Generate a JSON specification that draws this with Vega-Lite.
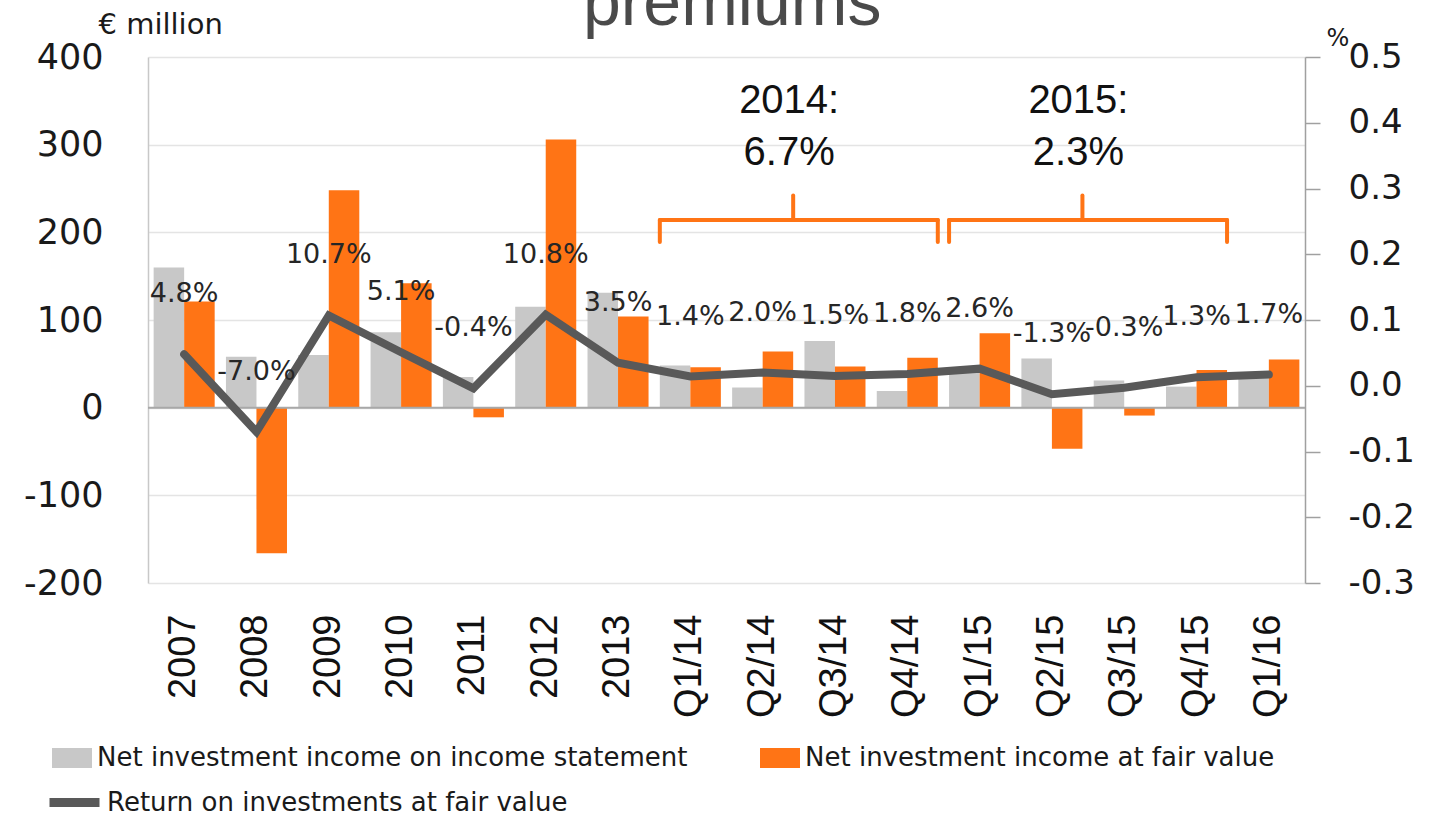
{
  "$schema": "https://vega.github.io/schema/vega-lite/v6.json",
  "autosize": {"type": "none"},
  "width": 1157,
  "height": 526,
  "padding": {"left": 148, "top": 57, "right": 124, "bottom": 234},
  "config": {
    "view": {"stroke": null},
    "font": "DejaVu Sans",
    "text": {"font": "DejaVu Sans"}
  },
  "datasets": {
    "bars": [
      {"cat": "2007", "series": "Net investment income on income statement", "value": 160},
      {"cat": "2007", "series": "Net investment income at fair value", "value": 121},
      {"cat": "2008", "series": "Net investment income on income statement", "value": 58},
      {"cat": "2008", "series": "Net investment income at fair value", "value": -166},
      {"cat": "2009", "series": "Net investment income on income statement", "value": 60},
      {"cat": "2009", "series": "Net investment income at fair value", "value": 248},
      {"cat": "2010", "series": "Net investment income on income statement", "value": 86},
      {"cat": "2010", "series": "Net investment income at fair value", "value": 142},
      {"cat": "2011", "series": "Net investment income on income statement", "value": 35},
      {"cat": "2011", "series": "Net investment income at fair value", "value": -11},
      {"cat": "2012", "series": "Net investment income on income statement", "value": 115},
      {"cat": "2012", "series": "Net investment income at fair value", "value": 306},
      {"cat": "2013", "series": "Net investment income on income statement", "value": 131},
      {"cat": "2013", "series": "Net investment income at fair value", "value": 104},
      {"cat": "Q1/14", "series": "Net investment income on income statement", "value": 48},
      {"cat": "Q1/14", "series": "Net investment income at fair value", "value": 46},
      {"cat": "Q2/14", "series": "Net investment income on income statement", "value": 23},
      {"cat": "Q2/14", "series": "Net investment income at fair value", "value": 64},
      {"cat": "Q3/14", "series": "Net investment income on income statement", "value": 76},
      {"cat": "Q3/14", "series": "Net investment income at fair value", "value": 47},
      {"cat": "Q4/14", "series": "Net investment income on income statement", "value": 19},
      {"cat": "Q4/14", "series": "Net investment income at fair value", "value": 57},
      {"cat": "Q1/15", "series": "Net investment income on income statement", "value": 44},
      {"cat": "Q1/15", "series": "Net investment income at fair value", "value": 85},
      {"cat": "Q2/15", "series": "Net investment income on income statement", "value": 56},
      {"cat": "Q2/15", "series": "Net investment income at fair value", "value": -47},
      {"cat": "Q3/15", "series": "Net investment income on income statement", "value": 31},
      {"cat": "Q3/15", "series": "Net investment income at fair value", "value": -9},
      {"cat": "Q4/15", "series": "Net investment income on income statement", "value": 24},
      {"cat": "Q4/15", "series": "Net investment income at fair value", "value": 43},
      {"cat": "Q1/16", "series": "Net investment income on income statement", "value": 38},
      {"cat": "Q1/16", "series": "Net investment income at fair value", "value": 55}
    ],
    "returns": [
      {"cat": "2007", "ret": 0.048, "label": "4.8%"},
      {"cat": "2008", "ret": -0.070, "label": "-7.0%"},
      {"cat": "2009", "ret": 0.107, "label": "10.7%"},
      {"cat": "2010", "ret": 0.051, "label": "5.1%"},
      {"cat": "2011", "ret": -0.004, "label": "-0.4%"},
      {"cat": "2012", "ret": 0.108, "label": "10.8%"},
      {"cat": "2013", "ret": 0.035, "label": "3.5%"},
      {"cat": "Q1/14", "ret": 0.014, "label": "1.4%"},
      {"cat": "Q2/14", "ret": 0.020, "label": "2.0%"},
      {"cat": "Q3/14", "ret": 0.015, "label": "1.5%"},
      {"cat": "Q4/14", "ret": 0.018, "label": "1.8%"},
      {"cat": "Q1/15", "ret": 0.026, "label": "2.6%"},
      {"cat": "Q2/15", "ret": -0.013, "label": "-1.3%"},
      {"cat": "Q3/15", "ret": -0.003, "label": "-0.3%"},
      {"cat": "Q4/15", "ret": 0.013, "label": "1.3%"},
      {"cat": "Q1/16", "ret": 0.017, "label": "1.7%"}
    ],
    "braces": [
      {"period": "2014", "from": "Q1/14", "to": "Q4/14", "mid": "Q2/14", "note": "2014:\n6.7%"},
      {"period": "2015", "from": "Q1/15", "to": "Q4/15", "mid": "Q2/15", "note": "2015:\n2.3%"}
    ]
  },
  "layer": [
    {
      "layer": [
        {
          "data": {"name": "bars"},
          "mark": {"type": "bar"},
          "encoding": {
            "x": {
              "field": "cat", "type": "nominal", "sort": null,
              "scale": {
                "domain": ["2007", "2008", "2009", "2010", "2011", "2012", "2013", "Q1/14", "Q2/14", "Q3/14", "Q4/14", "Q1/15", "Q2/15", "Q3/15", "Q4/15", "Q1/16"],
                "paddingInner": 0.156, "paddingOuter": 0.078
              },
              "axis": {
                "title": null, "labelAngle": 270, "labelFont": "Liberation Sans",
                "labelFontSize": 38, "labelColor": "#111111", "labelPadding": 31,
                "ticks": false, "domain": false
              }
            },
            "xOffset": {
              "field": "series", "type": "nominal",
              "sort": ["Net investment income on income statement", "Net investment income at fair value"]
            },
            "y": {
              "field": "value", "type": "quantitative",
              "scale": {"domain": [-200, 400], "nice": false},
              "axis": {
                "values": [-200, -100, 0, 100, 200, 300, 400],
                "labelExpr": "(datum.value < 0 ? '-' : '') + format(abs(datum.value), 'd')",
                "labelFontSize": 35, "labelColor": "#1a1a1a", "labelPadding": 45,
                "ticks": false, "domain": true, "domainColor": "#c8c8c8", "domainWidth": 1.5,
                "grid": true, "gridColor": "#e4e4e4", "gridWidth": 1.5,
                "title": "€ million", "titleAngle": 0, "titleAlign": "left",
                "titleBaseline": "alphabetic", "titleX": -50, "titleY": -24,
                "titleFontSize": 29, "titleFontWeight": "normal", "titleColor": "#1a1a1a"
              }
            },
            "color": {
              "field": "series", "type": "nominal",
              "scale": {
                "domain": ["Net investment income on income statement", "Net investment income at fair value"],
                "range": ["#c8c8c8", "#ff7415"]
              },
              "legend": {
                "title": null, "orient": "none", "legendX": -96, "legendY": 681,
                "direction": "horizontal", "columns": 2, "columnPadding": 72,
                "symbolType": "M-1,-0.5H1V0.5H-1Z", "symbolSize": 1600,
                "symbolStrokeWidth": 0, "labelFontSize": 26, "labelColor": "#1a1a1a",
                "labelLimit": 900, "labelOffset": 5, "padding": 0
              }
            }
          }
        },
        {
          "data": {"values": [{"z": 0}]},
          "mark": {"type": "rule", "color": "#a8a8a8", "strokeWidth": 2},
          "encoding": {"y": {"field": "z", "type": "quantitative"}}
        },
        {
          "data": {"name": "braces"},
          "mark": {"type": "rule", "color": "#ff7415", "strokeWidth": 4, "strokeCap": "round"},
          "encoding": {
            "x": {"field": "from", "type": "nominal", "bandPosition": 0},
            "x2": {"field": "to", "bandPosition": 1},
            "y": {"datum": 214}
          }
        },
        {
          "data": {"name": "braces"},
          "mark": {"type": "rule", "color": "#ff7415", "strokeWidth": 4, "strokeCap": "round"},
          "encoding": {
            "x": {"field": "from", "type": "nominal", "bandPosition": 0},
            "y": {"datum": 214},
            "y2": {"datum": 189}
          }
        },
        {
          "data": {"name": "braces"},
          "mark": {"type": "rule", "color": "#ff7415", "strokeWidth": 4, "strokeCap": "round"},
          "encoding": {
            "x": {"field": "to", "type": "nominal", "bandPosition": 1},
            "y": {"datum": 214},
            "y2": {"datum": 189}
          }
        },
        {
          "data": {"name": "braces"},
          "mark": {"type": "rule", "color": "#ff7415", "strokeWidth": 4, "strokeCap": "round"},
          "encoding": {
            "x": {"field": "mid", "type": "nominal", "bandPosition": 1},
            "y": {"datum": 214},
            "y2": {"datum": 242}
          }
        },
        {
          "data": {"name": "braces"},
          "mark": {
            "type": "text", "font": "Liberation Sans", "fontSize": 40,
            "lineBreak": "\n", "lineHeight": 52, "baseline": "alphabetic",
            "align": "center", "color": "#111111", "dx": -4
          },
          "encoding": {
            "x": {"field": "mid", "type": "nominal", "bandPosition": 1},
            "y": {"datum": 336},
            "text": {"field": "note"}
          }
        },
        {
          "data": {"values": [{"t": "premiums"}]},
          "mark": {
            "type": "text", "font": "Liberation Sans", "fontSize": 68,
            "baseline": "alphabetic", "align": "center", "color": "#4a4a4a"
          },
          "encoding": {
            "x": {"datum": "Q2/14", "bandPosition": 0},
            "y": {"datum": 437},
            "text": {"field": "t"}
          }
        }
      ]
    },
    {
      "data": {"name": "returns"},
      "layer": [
        {
          "mark": {"type": "line", "color": "#595959", "strokeWidth": 8, "strokeJoin": "miter", "strokeCap": "round"},
          "encoding": {
            "x": {"field": "cat", "type": "nominal", "sort": null},
            "y": {
              "field": "ret", "type": "quantitative",
              "scale": {"domain": [-0.3, 0.5], "nice": false, "zero": false},
              "axis": {
                "orient": "right",
                "values": [-0.3, -0.2, -0.1, 0, 0.1, 0.2, 0.3, 0.4, 0.5],
                "labelExpr": "(datum.value < -0.00001 ? '-' : '') + format(abs(datum.value), '.1f')",
                "labelFontSize": 34, "labelColor": "#1a1a1a", "labelPadding": 28,
                "ticks": true, "tickSize": 15, "tickColor": "#a0a0a0", "tickWidth": 1.5,
                "domain": true, "domainColor": "#a0a0a0", "domainWidth": 1.5,
                "grid": false,
                "title": "%", "titleAngle": 0, "titleAlign": "left",
                "titleBaseline": "alphabetic", "titleX": 21, "titleY": -12,
                "titleFontSize": 24, "titleFontWeight": "normal", "titleColor": "#1a1a1a"
              }
            },
            "stroke": {
              "datum": "Return on investments at fair value",
              "scale": {"range": ["#595959"]},
              "legend": {
                "title": null, "orient": "none", "legendX": -103, "legendY": 716,
                "symbolType": "stroke", "symbolSize": 2500, "symbolStrokeWidth": 9,
                "labelFontSize": 26, "labelColor": "#1a1a1a", "labelLimit": 900,
                "labelOffset": 3, "padding": 0
              }
            }
          }
        },
        {
          "mark": {"type": "text", "fontSize": 27, "color": "#262626", "baseline": "middle", "dy": -60},
          "encoding": {
            "x": {"field": "cat", "type": "nominal", "sort": null},
            "y": {"field": "ret", "type": "quantitative"},
            "text": {"field": "label"}
          }
        }
      ]
    }
  ],
  "resolve": {"scale": {"y": "independent"}}
}
